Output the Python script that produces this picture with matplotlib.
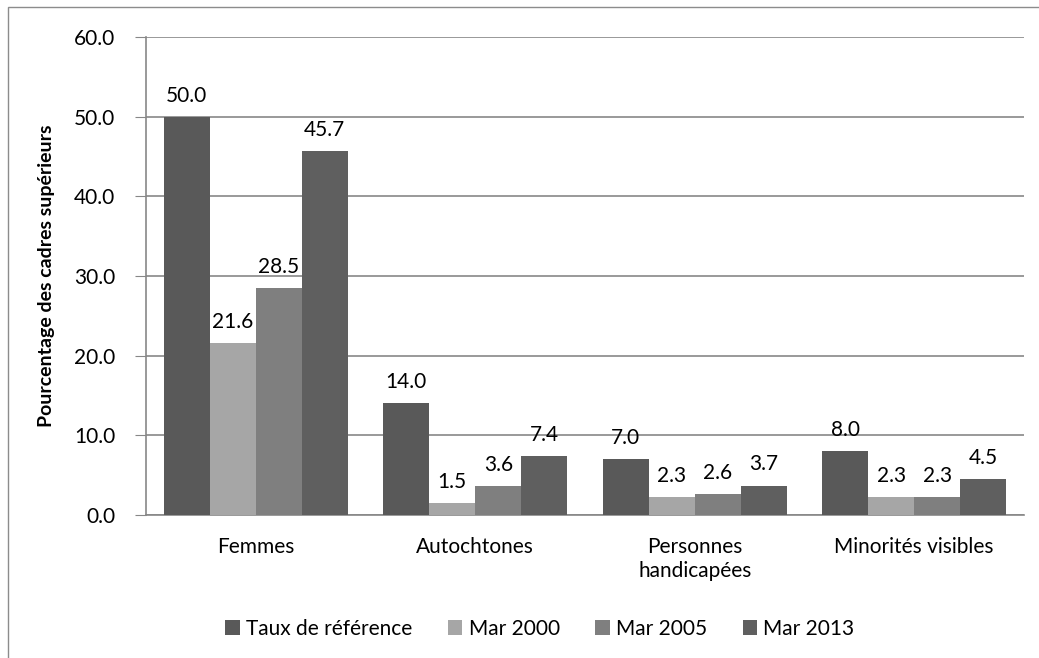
import matplotlib
matplotlib.use("Agg")
import matplotlib.pyplot as plt
import numpy as np
from matplotlib.patches import Rectangle

categories = ["Femmes", "Autochtones", "Personnes\nhandicapées", "Minorités visibles"]
series_names = ["Taux de référence", "Mar 2000", "Mar 2005", "Mar 2013"]
taux_reference = [50.0, 14.0, 7.0, 8.0]
mar_2000 = [21.6, 1.5, 2.3, 2.3]
mar_2005 = [28.5, 3.6, 2.6, 2.3]
mar_2013 = [45.7, 7.4, 3.7, 4.5]
colors = ["#595959", "#a6a6a6", "#7f7f7f", "#5f5f5f"]

plt.rcParams['font.family'] = ['Lato', 'DejaVu Sans']
FS = 15

W, H = 1039, 658
fig = plt.figure(figsize=(W / 100, H / 100), dpi=100)
ax = fig.add_axes([146 / W, 1 - 515 / H, (1024 - 146) / W, (515 - 37) / H])

# outer frame (cut on right and bottom)
fig.patches.append(Rectangle((8 / W, -0.1), 1.2, 1 - 7 / H + 0.1, transform=fig.transFigure,
                             fill=False, edgecolor="#8c8c8c", linewidth=1.0))

x = np.arange(len(categories))
bw = 0.21
data = [taux_reference, mar_2000, mar_2005, mar_2013]
for i, (vals, name, c) in enumerate(zip(data, series_names, colors)):
    pos = x + (i - 1.5) * bw
    ax.bar(pos, vals, bw, color=c, label=name, zorder=3)
    for xp, v in zip(pos, vals):
        ax.text(xp, v + 1.4, f"{v:.1f}", ha="center", va="bottom", fontsize=FS, zorder=4)

ax.set_xlim(-0.5, len(categories) - 0.5)
ax.set_ylim(0, 60)
ax.set_yticks(np.arange(0, 61, 10))
ax.set_yticklabels([f"{v:.1f}" for v in np.arange(0, 61, 10)], fontsize=FS)
ax.set_xticks(x)
ax.set_xticklabels(categories, fontsize=FS, linespacing=1.25)
ax.tick_params(axis="x", length=0, pad=16)
ax.tick_params(axis="y", length=8, color="#878787", pad=14)
ax.yaxis.grid(True, color="#878787", linewidth=1.2, zorder=0)
for s in ["top", "right"]:
    ax.spines[s].set_visible(False)
ax.spines["left"].set_color("#878787")
ax.spines["bottom"].set_color("#878787")
ax.spines["left"].set_linewidth(1.2)
ax.spines["bottom"].set_linewidth(1.2)
ax.set_axisbelow(True)

ax.set_ylabel("Pourcentage des cadres supérieurs", fontsize=14, fontweight="bold")
ax.yaxis.set_label_coords((55 - 146) / (1024 - 146), 0.5)

fig.legend(loc="center", bbox_to_anchor=(540 / W, 1 - 629 / H), ncol=4, frameon=False,
           fontsize=FS, handlelength=0.7, handleheight=0.7, handletextpad=0.3,
           columnspacing=1.7)

fig.savefig("out.png", dpi=100)
